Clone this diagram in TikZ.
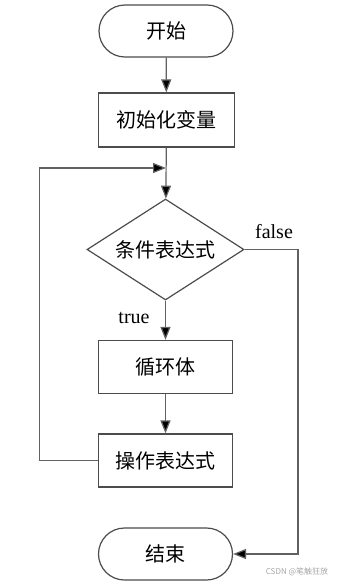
\documentclass[tikz,border=0pt]{standalone}
\usepackage{fontspec}
\setmainfont{Liberation Serif}
\newfontfamily\cjk{Noto Sans CJK SC}
\usetikzlibrary{arrows.meta,shapes.misc,shapes.geometric}
\begin{document}
\begin{tikzpicture}[x=1pt,y=-1pt,
  lineclr/.style={draw=black!62, line width=1.2pt},
  arr/.style={lineclr, -{Triangle[length=13pt,width=10pt,fill=black]}},
  cjkfont/.style={font=\cjk\fontsize{20}{22}\selectfont},
  term/.style={rounded rectangle, lineclr, draw=black!70, minimum width=134pt, minimum height=52pt, inner sep=0pt, cjkfont},
  proc/.style={rectangle, lineclr, draw=black!70, minimum width=134pt, minimum height=53pt, inner sep=0pt, cjkfont},
  dec/.style={diamond, lineclr, draw=black!70, aspect=1.55, minimum width=157pt, minimum height=101pt, inner sep=0pt, cjkfont},
  lbl/.style={font=\fontsize{20}{22}\selectfont, inner sep=0pt}
]
\useasboundingbox (0,0) rectangle (339,584);
\node[term] (start) at (166,31) {开始};
\node[proc, minimum width=136pt, minimum height=54pt] (init) at (166.5,120) {初始化变量};
\coordinate (j) at (166,168);
\node[dec] (cond) at (165.5,249.5) {条件表达式};
\node[proc] (body) at (165.5,367) {循环体};
\node[proc] (oper) at (165.5,460.5) {操作表达式};
\node[term] (stop) at (165.5,554) {结束};
\coordinate (lc) at (39.5,168);
\coordinate (rc) at (298,249.5);

\draw[arr] (start) -- (init);
\draw[arr] (init) -- (cond);
\draw[arr] (oper.west) -| (lc) -- (j);
\draw[arr] (cond) -- (body);
\draw[arr] (body) -- (oper);
\draw[arr] (cond.east) -- (rc) |- (stop.east);

\node[lbl] (tlbl) at (134,318) {true};
\node[lbl] (flbl) at (274,232) {false};
\node[font=\cjk\fontsize{8}{9}\selectfont, text=black!35, inner sep=0pt] (wm) at (297,572) {CSDN @笔触狂放};
\end{tikzpicture}
\end{document}
